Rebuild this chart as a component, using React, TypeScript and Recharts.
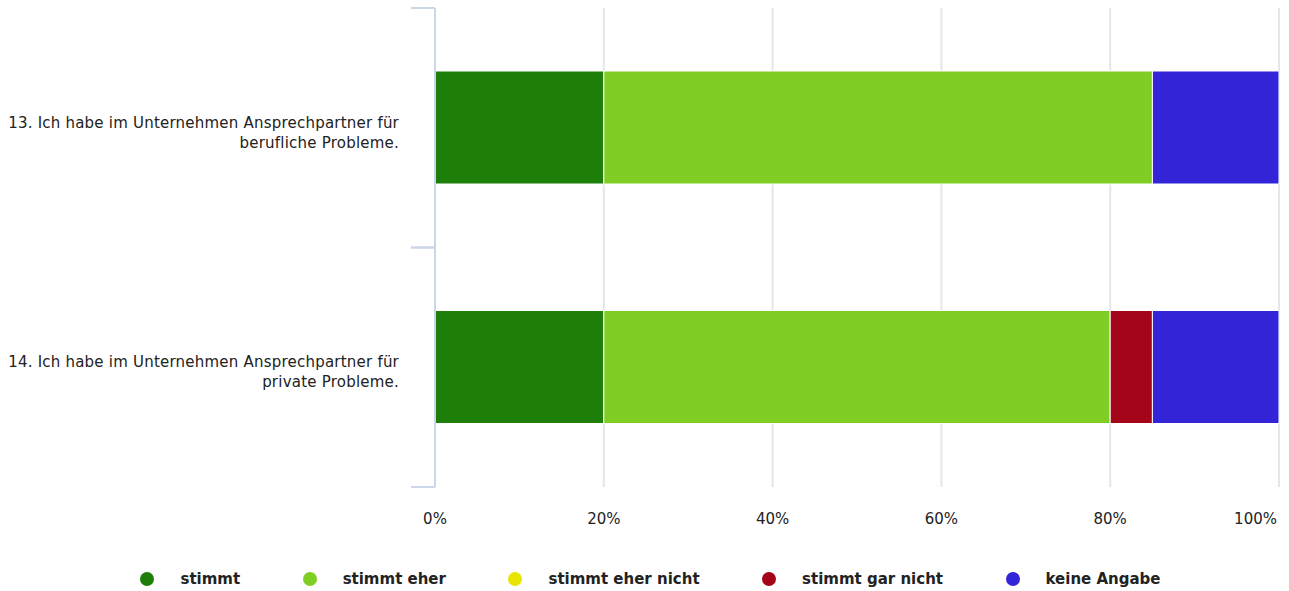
import { BarChart, Bar, XAxis, YAxis, CartesianGrid } from 'recharts';

const questions = [
  ['13. Ich habe im Unternehmen Ansprechpartner für', 'berufliche Probleme.'],
  ['14. Ich habe im Unternehmen Ansprechpartner für', 'private Probleme.'],
];
const seriesNames = ['stimmt', 'stimmt eher', 'stimmt eher nicht', 'stimmt gar nicht', 'keine Angabe'];
const seriesColors = ['#1d7f0a', '#80cd23', '#e8e500', '#a50519', '#3324d7'];
const stimmt = [20, 20];
const stimmtEher = [65, 60];
const stimmtEherNicht = [0, 0];
const stimmtGarNicht = [0, 5];
const keineAngabe = [15, 15];
const xTicks = [0, 20, 40, 60, 80, 100];

const seriesValues = [stimmt, stimmtEher, stimmtEherNicht, stimmtGarNicht, keineAngabe];
const data = questions.map((q, i) => {
  const row: Record<string, any> = { name: q.join(' ') };
  seriesNames.forEach((s, k) => { row[s] = seriesValues[k][i]; });
  return row;
});

const FONT = '"DejaVu Sans", Verdana, sans-serif';

function QuestionTick(props: any) {
  const { x, y, payload, index } = props;
  const lines = questions[index] ?? [String(payload.value)];
  const half = payload.offset ?? 120;
  return (
    <g>
      <line x1={x + 12} x2={x + 36} y1={y - half} y2={y - half} stroke="#ccd6eb" strokeWidth={2} />
      <line x1={x + 12} x2={x + 36} y1={y + half} y2={y + half} stroke="#ccd6eb" strokeWidth={2} />
      <text x={x} y={y} textAnchor="end" fontSize={15} letterSpacing={0.22} fill="#222" fontFamily={FONT}>
        {lines.map((l, i) => (
          <tspan key={i} x={x} dy={i === 0 ? -(lines.length - 1) * 10 + 10 : 20}>{l}</tspan>
        ))}
      </text>
    </g>
  );
}

function PercentTick(props: any) {
  const { x, y, payload, index, visibleTicksCount } = props;
  const last = index === visibleTicksCount - 1;
  return (
    <text
      x={last ? x - 2 : x}
      y={y}
      dy="0.71em"
      textAnchor={last ? 'end' : 'middle'}
      fontSize={15}
      fill="#222"
      fontFamily={FONT}
    >
      {`${payload.value}%`}
    </text>
  );
}

export default function App() {
  return (
    <div style={{ position: 'absolute', left: 0, top: 0, width: 1289, height: 591, background: '#fff' }}>
      <BarChart
        width={1289}
        height={591}
        data={data}
        layout="vertical"
        margin={{ top: 8, right: 10, bottom: 74, left: 0 }}
      >
        <CartesianGrid horizontal={false} stroke="#e6e6e6" strokeWidth={2} />
        <XAxis
          type="number"
          domain={[0, 100]}
          ticks={xTicks}
          axisLine={false}
          tickLine={false}
          tickSize={0}
          tickMargin={26}
          height={30}
          tick={<PercentTick />}
          interval={0}
        />
        <YAxis
          type="category"
          dataKey="name"
          width={435}
          axisLine={{ stroke: '#ccd6eb', strokeWidth: 2 }}
          tickLine={false}
          tickSize={0}
          tickMargin={36}
          tick={<QuestionTick />}
          interval={0}
        />
        {seriesNames.map((s, k) => (
          <Bar
            key={s}
            dataKey={s}
            stackId="a"
            fill={seriesColors[k]}
            stroke="#fff"
            strokeWidth={1}
            barSize={113}
            isAnimationActive={false}
          />
        ))}
      </BarChart>
      <div
        style={{
          position: 'absolute', top: 569, left: 12, width: 1277,
          display: 'flex', justifyContent: 'center', gap: 62.5,
          fontFamily: FONT, fontSize: 15, fontWeight: 'bold', color: '#222',
        }}
      >
        {seriesNames.map((s, k) => (
          <div key={s} style={{ display: 'flex', alignItems: 'center', height: 20 }}>
            <span style={{ width: 14, height: 14, borderRadius: 7, background: seriesColors[k], marginRight: 26 }} />
            <span>{s}</span>
          </div>
        ))}
      </div>
    </div>
  );
}
